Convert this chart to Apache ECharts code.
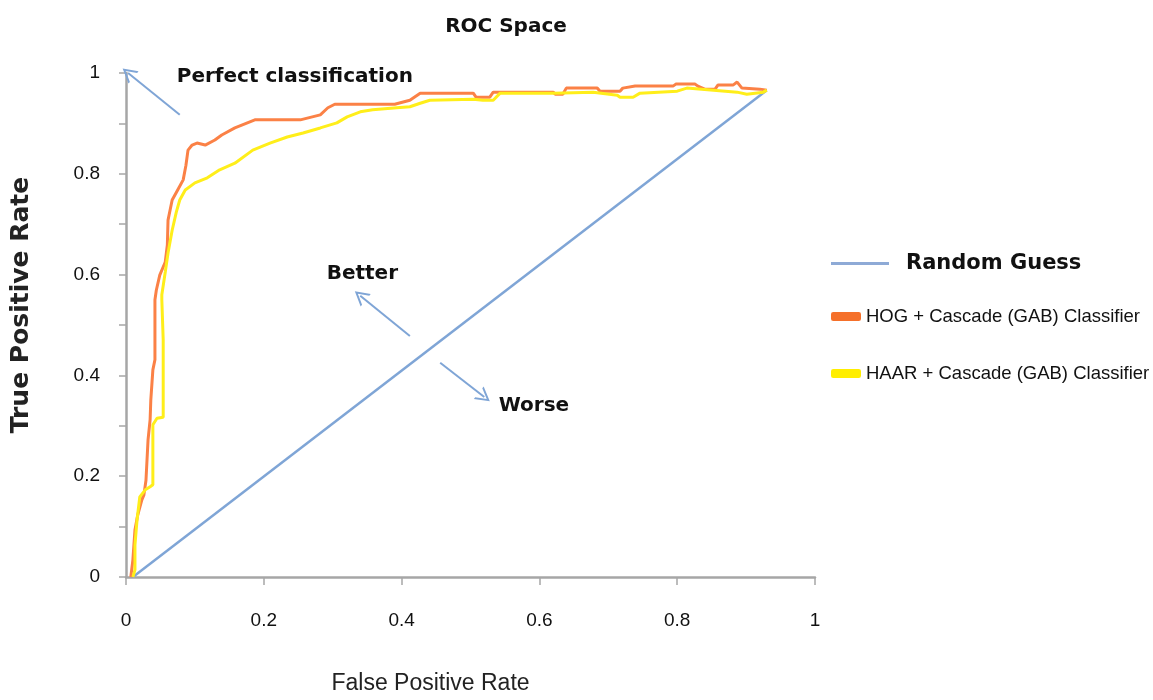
<!DOCTYPE html>
<html>
<head>
<meta charset="utf-8">
<script src="https://cdn.jsdelivr.net/npm/echarts@6/dist/echarts.min.js"></script>
<style>
html,body{margin:0;padding:0;background:#fff;}
#chart{width:1153px;height:700px;}
</style>
</head>
<body>
<div id="chart"></div>
<script>
// ---- Data ----
const chartTitle = 'ROC Space';
const xAxisName = 'False Positive Rate';
const yAxisName = 'True Positive Rate';
const seriesNames = ['Random Guess', 'HOG + Cascade (GAB) Classifier', 'HAAR + Cascade (GAB) Classifier'];

const randomFpr = [0.010, 0.930];
const randomTpr = [0.000, 0.966];

const hogFpr = [0.007,0.010,0.013,0.017,0.023,0.026,0.029,0.032,0.035,0.036,0.039,0.042,0.042,0.044,0.049,0.057,0.060,0.061,0.067,0.075,0.083,0.087,0.090,0.096,0.103,0.115,0.129,0.139,0.158,0.187,0.253,0.282,0.293,0.303,0.390,0.412,0.427,0.504,0.508,0.528,0.533,0.620,0.623,0.634,0.639,0.684,0.688,0.717,0.721,0.739,0.794,0.798,0.826,0.830,0.840,0.855,0.859,0.881,0.887,0.894,0.920,0.930];
const hogTpr = [0.000,0.034,0.093,0.123,0.153,0.163,0.192,0.272,0.312,0.351,0.411,0.431,0.550,0.569,0.599,0.625,0.659,0.708,0.748,0.768,0.788,0.817,0.847,0.857,0.861,0.857,0.867,0.877,0.891,0.907,0.907,0.917,0.931,0.938,0.938,0.946,0.960,0.960,0.952,0.952,0.962,0.962,0.958,0.958,0.970,0.970,0.964,0.964,0.970,0.974,0.974,0.978,0.978,0.974,0.968,0.968,0.976,0.976,0.982,0.970,0.968,0.966];

const haarFpr = [0.010,0.013,0.013,0.016,0.020,0.028,0.035,0.039,0.039,0.045,0.054,0.054,0.052,0.052,0.057,0.061,0.067,0.073,0.078,0.086,0.100,0.118,0.136,0.158,0.184,0.209,0.234,0.257,0.282,0.306,0.321,0.340,0.358,0.393,0.412,0.427,0.441,0.504,0.518,0.533,0.543,0.620,0.678,0.713,0.717,0.736,0.746,0.800,0.814,0.887,0.901,0.925,0.930];
const haarTpr = [0.000,0.014,0.063,0.113,0.159,0.173,0.179,0.183,0.302,0.315,0.317,0.470,0.550,0.560,0.605,0.643,0.688,0.724,0.748,0.768,0.782,0.792,0.808,0.821,0.847,0.861,0.873,0.881,0.891,0.901,0.913,0.923,0.927,0.931,0.933,0.940,0.946,0.948,0.946,0.946,0.960,0.960,0.962,0.956,0.952,0.952,0.960,0.964,0.970,0.962,0.958,0.962,0.966];

const xTicks = [0, 0.2, 0.4, 0.6, 0.8, 1];
const yTicks = [0, 0.2, 0.4, 0.6, 0.8, 1];

// annotations: text with its anchor, and arrows [from, to] in data units
const annoTexts = ['Perfect classification', 'Better', 'Worse'];
const annoTextX = [0.245, 0.343, 0.592];
const annoTextY = [0.992, 0.601, 0.339];
const arrowFromX = [0.078, 0.412, 0.456];
const arrowFromY = [0.917, 0.478, 0.425];
const arrowToX   = [0.003, 0.340, 0.520];
const arrowToY   = [1.000, 0.558, 0.357];

// ---- Build chart ----
const zip = (a, b) => a.map((v, i) => [v, b[i]]);
const chevron = 'path://M0,10 L5,0 L10,10 L8.6,10 L5,2.8 L1.4,10 Z';
const axisGray = '#a6a6a6';
const textDark = '#111111';
const sans = "'Liberation Sans',Arial,sans-serif";
const boldFont = "'DejaVu Sans',sans-serif";
const arrowBlue = '#7fa5d6';

const chart = echarts.init(document.getElementById('chart'));
chart.setOption({
  animation: false,
  backgroundColor: '#ffffff',
  title: {
    text: chartTitle, left: 501, top: 12, textAlign: 'center',
    textStyle: { fontFamily: boldFont, fontWeight: 'bold', fontSize: 20, color: textDark }
  },
  grid: { left: 126, right: 338, top: 73, bottom: 123, containLabel: false },
  legend: [
    {
      data: [{ name: seriesNames[0], icon: 'rect' }],
      left: 826, top: 248, itemWidth: 58, itemHeight: 3, selectedMode: false,
      textStyle: { fontFamily: boldFont, fontWeight: 'bold', fontSize: 21, color: textDark, padding: [0, 0, 0, 12] }
    },
    {
      data: [{ name: seriesNames[1], icon: 'roundRect' }, { name: seriesNames[2], icon: 'roundRect' }],
      orient: 'vertical', left: 826, top: 302, itemWidth: 30, itemHeight: 9, itemGap: 38, selectedMode: false,
      textStyle: { fontFamily: sans, fontSize: 18.5, color: textDark }
    }
  ],
  xAxis: {
    type: 'value', min: 0, max: 1, interval: 0.2,
    name: xAxisName, nameLocation: 'middle', nameGap: 95,
    nameTextStyle: { fontFamily: sans, fontSize: 23, color: '#222222', padding: [0, 80, 0, 0] },
    axisLine: { show: true, lineStyle: { color: axisGray, width: 2.5 } },
    axisTick: { show: true, length: 8, lineStyle: { color: axisGray, width: 1.5 } },
    axisLabel: { margin: 34, fontFamily: sans, fontSize: 19, color: textDark,
      formatter: v => String(Math.round(v * 10) / 10) },
    splitLine: { show: false }
  },
  yAxis: {
    type: 'value', min: 0, max: 1, interval: 0.1,
    name: yAxisName, nameLocation: 'middle', nameGap: 92, nameRotate: 90,
    nameTextStyle: { fontFamily: boldFont, fontWeight: 'bold', fontSize: 25, color: '#222222', padding: [0, 0, 0, 40] },
    axisLine: { show: true, lineStyle: { color: axisGray, width: 2.5 } },
    axisTick: { show: true, length: 7, lineStyle: { color: axisGray, width: 1.5 } },
    axisLabel: { margin: 26, fontFamily: sans, fontSize: 19, color: textDark,
      formatter: v => {
        const k = Math.round(v * 10);
        return (k % 2 === 0 && yTicks.indexOf(k / 10) >= 0) ? String(k / 10) : '';
      } },
    splitLine: { show: false }
  },
  series: [
    {
      name: seriesNames[0], type: 'line', showSymbol: false, silent: true,
      data: zip(randomFpr, randomTpr),
      lineStyle: { color: arrowBlue, width: 2.5 }, itemStyle: { color: '#8eaad6' }, z: 2
    },
    {
      name: seriesNames[1], type: 'line', showSymbol: false, silent: true,
      data: zip(hogFpr, hogTpr),
      lineStyle: { color: '#fb8146', width: 3 }, itemStyle: { color: '#f5702a' }, z: 3
    },
    {
      name: seriesNames[2], type: 'line', showSymbol: false, silent: true,
      data: zip(haarFpr, haarTpr),
      lineStyle: { color: '#ffee1a', width: 3 }, itemStyle: { color: '#ffee00' }, z: 4
    },
    {
      name: 'annotations', type: 'scatter', symbolSize: 1, silent: true, z: 5,
      itemStyle: { opacity: 1, color: 'rgba(0,0,0,0)' },
      data: annoTexts.map((t, i) => ({ name: t, value: [annoTextX[i], annoTextY[i]] })),
      label: {
        show: true, position: 'inside', formatter: p => p.name, opacity: 1,
        fontFamily: boldFont, fontWeight: 'bold', fontSize: 20, color: textDark
      },
      markLine: {
        silent: true, animation: false,
        symbol: ['none', 'arrow'], symbolSize: 14,
        label: { show: false },
        lineStyle: { type: 'solid', color: arrowBlue, width: 2, opacity: 1 },
        itemStyle: { color: arrowBlue },
        data: arrowFromX.map((x, i) => [
          { coord: [x, arrowFromY[i]], symbol: 'none', symbolSize: 0 },
          { coord: [arrowToX[i], arrowToY[i]], symbol: chevron, symbolSize: [16, 14] }
        ])
      }
    }
  ]
});
</script>
</body>
</html>
